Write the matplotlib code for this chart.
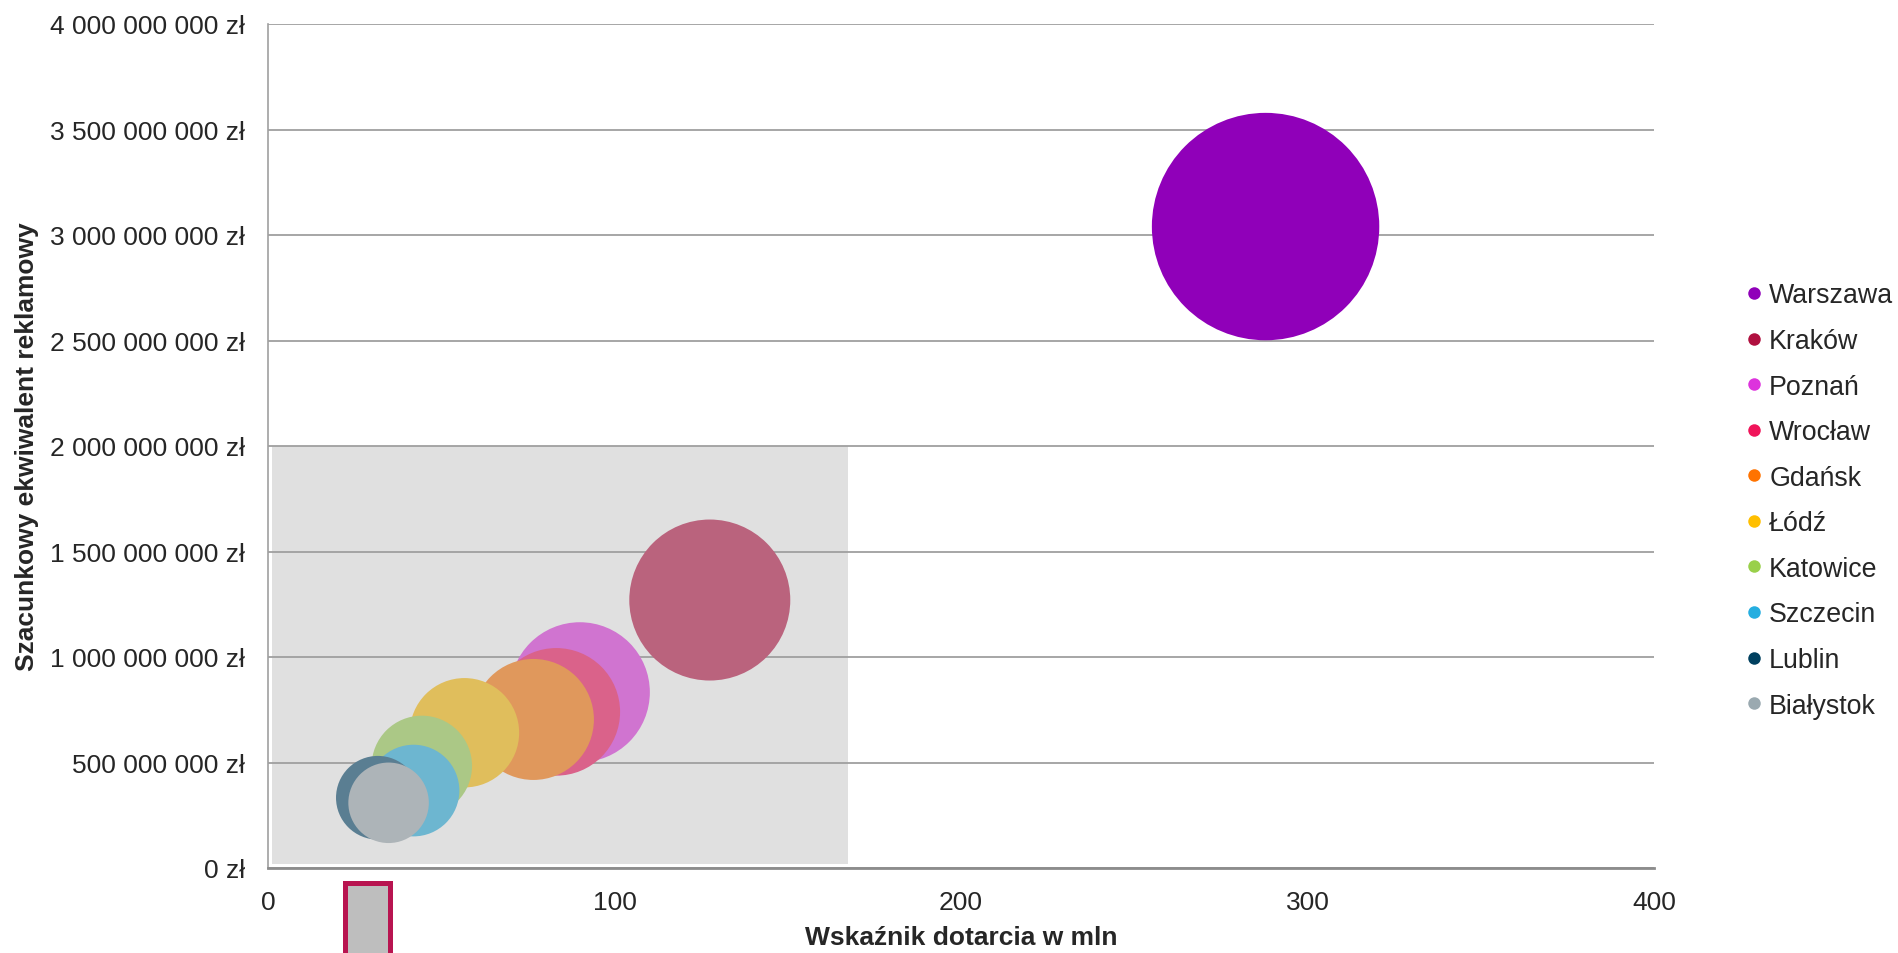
import matplotlib
matplotlib.use("Agg")
from matplotlib import pyplot as plt
from matplotlib.patches import Rectangle
from matplotlib.lines import Line2D
from matplotlib.ticker import FuncFormatter

plt.rcParams['font.family'] = ['Liberation Sans', 'DejaVu Sans']

miasta = ["Warszawa", "Kraków", "Poznań", "Wrocław", "Gdańsk",
          "Łódź", "Katowice", "Szczecin", "Lublin", "Białystok"]
dotarcie = [287.9, 127.5, 90.0, 83.2, 76.6, 56.7, 44.4, 42.0, 31.7, 34.8]
ekwiwalent = [3.04e9, 1.27e9, 8.33e8, 7.40e8, 7.04e8, 6.41e8, 4.84e8, 3.67e8, 3.33e8, 3.09e8]
wielkosc = [129.3, 64.8, 49.0, 40.7, 36.6, 29.9, 25.2, 21.0, 17.5, 16.2]

kolory_legendy = ["#9000B9", "#B0103F", "#DD33DD", "#F0145A", "#FF7300",
                  "#FFBF00", "#99D04A", "#25AEE0", "#00405F", "#9AA9B0"]
kolory_babli = ["#9000B9", "#BA637D", "#D074D0", "#DA628A", "#E0985C",
                "#E0BE5C", "#ABC886", "#6DB6D0", "#5A7E92", "#ADB4B8"]

x_ticks = [0, 100, 200, 300, 400]
y_ticks = [0, 5e8, 1e9, 1.5e9, 2e9, 2.5e9, 3e9, 3.5e9, 4e9]

txt = "#262626"
fig = plt.figure(figsize=(18.99, 9.54), dpi=100)
ax = fig.add_axes([268 / 1899, 1 - 869 / 954, 1386 / 1899, 844 / 954])

# szare tlo "powiekszenia"
ax.add_patch(Rectangle((1.15, 1.9e7), 166.3, 2e9 - 1.9e7, facecolor="#E0E0E0",
                       edgecolor="none", zorder=0.3))

for i in range(len(miasta)):
    ax.scatter(dotarcie[i], ekwiwalent[i], s=wielkosc[i] * 207.36,
               color=kolory_babli[i], edgecolors="none", zorder=2 + i * 0.01)

ax.set_xlim(0, 400)
ax.set_ylim(0, 4e9)
ax.set_xticks(x_ticks)
ax.set_yticks(y_ticks)
ax.yaxis.set_major_formatter(FuncFormatter(lambda v, p: "{:,}".format(int(v)).replace(",", " ") + " zł"))
ax.set_axisbelow(True)
ax.grid(axis="y", color="#9F9F9F", linewidth=1.3)
ax.grid(axis="x", visible=False)
ax.tick_params(length=0, labelsize=19, colors=txt)
ax.tick_params(axis="y", pad=16.5)
ax.tick_params(axis="x", pad=16)
for s in ["top", "right"]:
    ax.spines[s].set_visible(False)
ax.spines["left"].set_color("#A0A0A0")
ax.spines["left"].set_linewidth(1.2)
ax.spines["bottom"].set_color("#8C8C8C")
ax.spines["bottom"].set_linewidth(2)
ax.spines["bottom"].set_zorder(3)

ax.set_xlabel("Wskaźnik dotarcia w mln", fontsize=19, fontweight="bold", color=txt)
ax.set_ylabel("Szacunkowy ekwiwalent reklamowy", fontsize=19, fontweight="bold", color=txt)
ax.xaxis.set_label_coords(0.5, (869 - 938) / 844)
ax.yaxis.set_label_coords((27 - 268) / 1386, 0.5)
ax.xaxis.label.set_va("center")
ax.yaxis.label.set_va("center")

# maly prostokat pod osia
ax.add_patch(Rectangle((22.1, -4.5e8), 13.0, 4.5e8 - 7.3e7, facecolor="#BEBEBE",
                       edgecolor="#B81450", linewidth=3.6, clip_on=False, zorder=3))

handles = [Line2D([], [], marker="o", linestyle="none", markersize=9,
                  markerfacecolor=c, markeredgecolor="none") for c in kolory_legendy]
leg = ax.legend(handles, miasta, loc="upper left", bbox_to_anchor=(1733 / 1899, 1 - 270 / 954),
                bbox_transform=fig.transFigure, frameon=False, fontsize=19.3,
                handlelength=0.6, handletextpad=0.25, labelspacing=0.73, borderpad=0)
for t in leg.get_texts():
    t.set_color(txt)

fig.savefig("out.png", dpi=100)
